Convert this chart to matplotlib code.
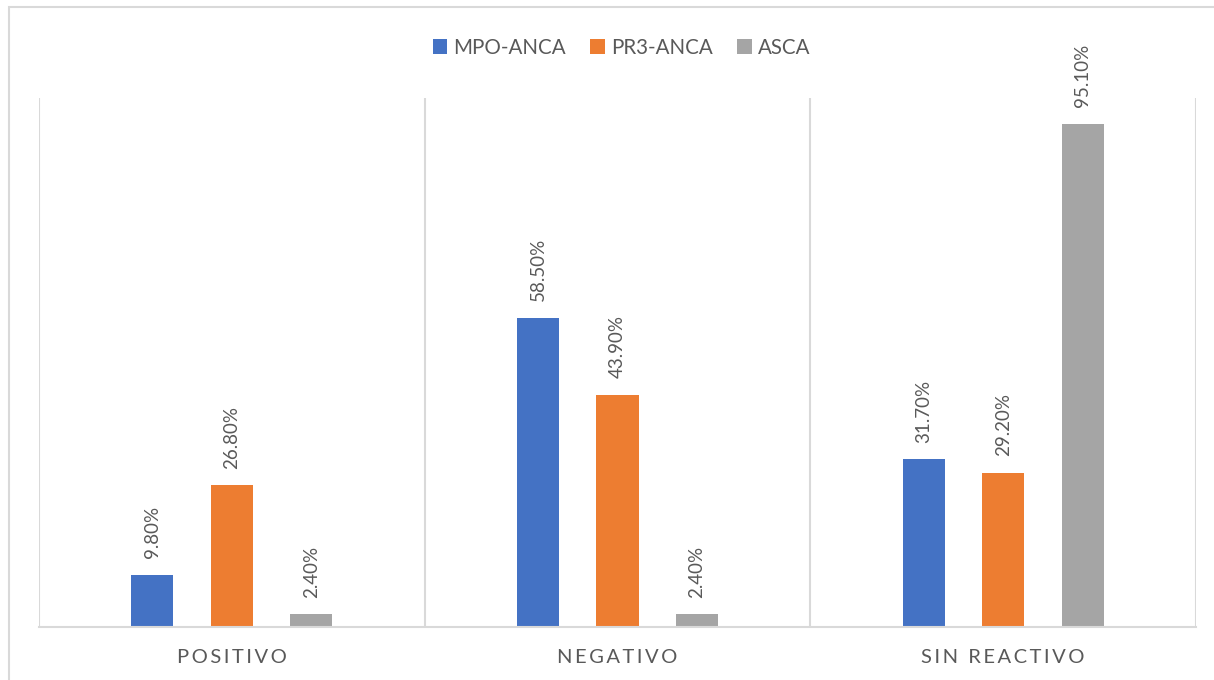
import matplotlib.pyplot as plt
from matplotlib.patches import Rectangle
import numpy as np

plt.rcParams['font.family'] = ['Lato', 'DejaVu Sans']

categories = ["POSITIVO", "NEGATIVO", "SIN REACTIVO"]
series_names = ["MPO-ANCA", "PR3-ANCA", "ASCA"]
mpo = [9.8, 58.5, 31.7]
pr3 = [26.8, 43.9, 29.2]
asca = [2.4, 2.4, 95.1]
colors = ["#4472C4", "#ED7D31", "#A5A5A5"]

text_col = "#595959"
grid_col = "#D9D9D9"

fig = plt.figure(figsize=(12.14, 6.8), dpi=100)
ax = fig.add_axes([39 / 1214, 53 / 680, 1157 / 1214, 529 / 680])

# outer chart border (only left/top edges are inside the picture)
fig.patches.append(Rectangle((9 / 1214, -0.05), 1.1, (673 / 680) + 0.05,
                             transform=fig.transFigure, fill=False,
                             edgecolor=grid_col, linewidth=1.5))

x = np.arange(len(categories))
width = 0.109
step = 0.206
for i, (name, vals) in enumerate(zip(series_names, [mpo, pr3, asca])):
    ax.bar(x + (i - 1) * step, vals, width, color=colors[i], label=name)
    for xi, v in zip(x + (i - 1) * step, vals):
        ax.annotate(f"{v:.2f}%", (xi, v), xytext=(0, 12), textcoords="offset points",
                    rotation=90, ha="center", va="bottom", color=text_col, fontsize=13.5)

ax.set_xlim(-0.5, len(categories) - 0.5)
ax.set_ylim(0, 100)
ax.set_yticks([])

# category separators
for sep in np.arange(len(categories) + 1) - 0.5:
    ax.axvline(sep, color=grid_col, linewidth=1.5, zorder=0)

for s in ["top", "right", "left"]:
    ax.spines[s].set_visible(False)
ax.spines["bottom"].set_color(grid_col)
ax.spines["bottom"].set_linewidth(1.5)

ax.set_xticks(x)
ax.set_xticklabels(["\u2009".join(c) for c in categories], color=text_col, fontsize=14.5)
ax.tick_params(axis="x", length=0, pad=16)

fig.legend(loc="upper center", bbox_to_anchor=(0.512, 0.972), ncol=3, frameon=False,
           fontsize=14.8, labelcolor=text_col, handlelength=0.7, handleheight=0.7,
           handletextpad=0.3, columnspacing=1.2)

fig.savefig("out.png", dpi=100)
